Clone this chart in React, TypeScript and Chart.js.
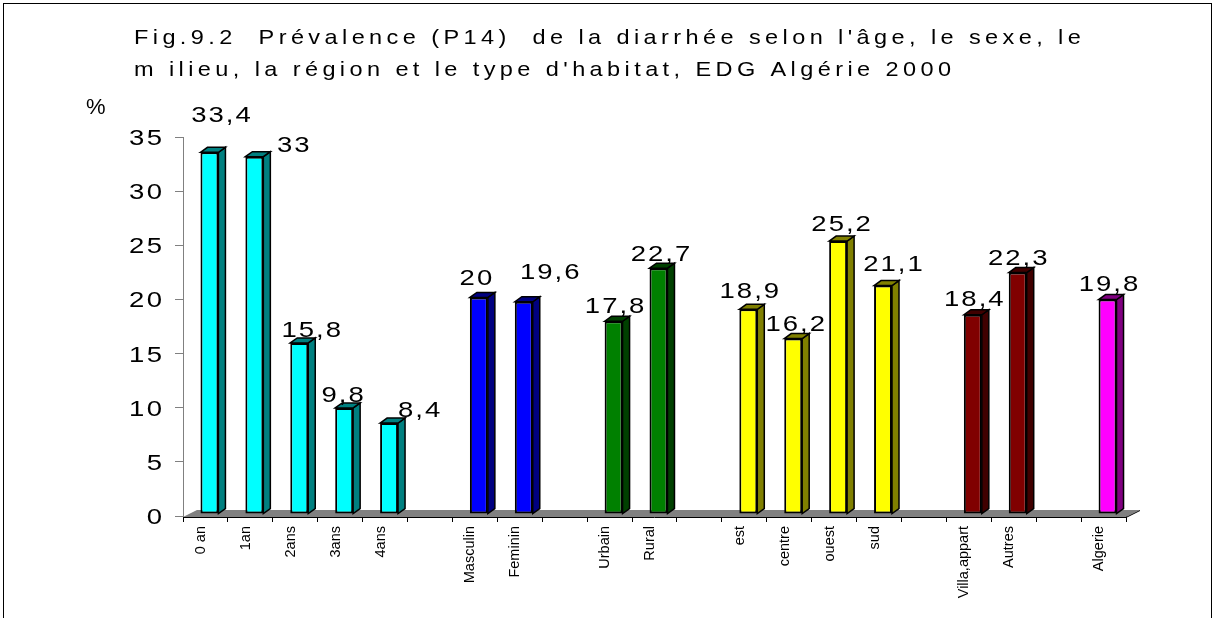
import React, { useEffect, useRef } from 'react';
import { Chart, registerables } from 'chart.js';

Chart.register(...registerables);

// ---------- data ----------
const CATEGORIES = [
  '0 an', '1an', '2ans', '3ans', '4ans', '',
  'Masculin', 'Feminin', '',
  'Urbain', 'Rural', '',
  'est', 'centre', 'ouest', 'sud', '',
  'Villa,appart', 'Autres', '',
  'Algerie',
];
const VALUES: (number | null)[] = [
  33.4, 33, 15.8, 9.8, 8.4, null,
  20, 19.6, null,
  17.8, 22.7, null,
  18.9, 16.2, 25.2, 21.1, null,
  18.4, 22.3, null,
  19.8,
];
const Y_TICKS = [0, 5, 10, 15, 20, 25, 30, 35];
const TITLE_LINES = [
  "Fig.9.2  Prévalence (P14)  de la diarrhée selon l'âge, le sexe, le",
  "m ilieu, la région et le type d'habitat, EDG Algérie 2000",
];
const Y_UNIT = '%';

// ---------- styles ----------
const FONT = "'Liberation Sans', Arial, sans-serif";
const CYAN = ['#00FFFF', '#008080'];
const BLUE = ['#0000FF', '#000080'];
const GREEN = ['#008000', '#004000'];
const YELLOW = ['#FFFF00', '#808000'];
const MAROON = ['#800000', '#400000'];
const MAGENTA = ['#FF00FF', '#800080'];
const GROUP_COLORS = [
  CYAN, CYAN, CYAN, CYAN, CYAN, CYAN,
  BLUE, BLUE, BLUE,
  GREEN, GREEN, GREEN,
  YELLOW, YELLOW, YELLOW, YELLOW, YELLOW,
  MAROON, MAROON, MAROON,
  MAGENTA,
];
// value label offsets relative to the bar's front top centre
const LABEL_OFFSETS: [number, number][] = [
  [11.5, -38], [39, -13], [12, -14], [-1.5, -14], [30, -14], [0, 0],
  [-3, -20], [26, -31], [0, 0],
  [1, -16], [2, -15], [0, 0],
  [1, -19], [2, -16], [3, -18], [10, -23], [0, 0],
  [1, -17], [0, -16], [0, 0],
  [1, -17],
];
const SHIFT_X = 4;
const SHIFT_Y = -2;
const DEPTH_X = 7;
const DEPTH_Y = 5;

function drawSpaced(
  ctx: CanvasRenderingContext2D,
  text: string,
  x: number,
  y: number,
  size: number,
  sx: number,
  ls: number,
  align: 'left' | 'center' | 'right',
) {
  ctx.save();
  ctx.font = `${size}px ${FONT}`;
  ctx.fillStyle = '#000';
  ctx.textAlign = 'left';
  ctx.textBaseline = 'alphabetic';
  const chars = [...text];
  const widths = chars.map((c) => ctx.measureText(c).width * sx);
  const total = widths.reduce((a, b) => a + b, 0) + ls * (chars.length - 1);
  let cx = align === 'center' ? x - total / 2 : align === 'right' ? x - total : x;
  chars.forEach((c, i) => {
    ctx.save();
    ctx.translate(cx, y);
    ctx.scale(sx, 1);
    ctx.fillText(c, 0, 0);
    ctx.restore();
    cx += widths[i] + ls;
  });
  ctx.restore();
}

const decoPlugin = {
  id: 'deco',
  beforeDraw(chart: any) {
    const { ctx, width, height } = chart;
    ctx.save();
    ctx.fillStyle = '#fff';
    ctx.fillRect(0, 0, width, height);
    ctx.strokeStyle = '#000';
    ctx.lineWidth = 1;
    ctx.strokeRect(3.5, 3.5, width - 7, height + 50);
    ctx.restore();
  },
  beforeDatasetsDraw(chart: any) {
    const { ctx, chartArea } = chart;
    const b = chartArea.bottom + 1;
    ctx.save();
    ctx.fillStyle = '#808080';
    ctx.beginPath();
    ctx.moveTo(chartArea.left, b);
    ctx.lineTo(chartArea.right, b);
    ctx.lineTo(chartArea.right + 14, b - 7);
    ctx.lineTo(chartArea.left + 14, b - 7);
    ctx.closePath();
    ctx.fill();
    ctx.strokeStyle = '#000';
    ctx.lineWidth = 1;
    ctx.beginPath();
    ctx.moveTo(chartArea.left, b + 0.5);
    ctx.lineTo(chartArea.right, b + 0.5);
    ctx.lineTo(chartArea.right + 14, b - 6.5);
    ctx.stroke();
    ctx.restore();
    ctx.save();
    ctx.translate(SHIFT_X, SHIFT_Y);
  },
  afterDatasetsDraw(chart: any) {
    const { ctx } = chart;
    const meta = chart.getDatasetMeta(0);
    meta.data.forEach((el: any, i: number) => {
      if (VALUES[i] == null) return;
      const p = el.getProps(['x', 'y', 'width', 'base'], true);
      const l = p.x - p.width / 2;
      const r = p.x + p.width / 2;
      const side = GROUP_COLORS[i][1];
      ctx.lineWidth = 1.5;
      ctx.strokeStyle = '#000';
      ctx.fillStyle = side;
      ctx.beginPath();
      ctx.moveTo(r, p.y);
      ctx.lineTo(r + DEPTH_X, p.y - DEPTH_Y);
      ctx.lineTo(r + DEPTH_X, p.base - DEPTH_Y);
      ctx.lineTo(r, p.base);
      ctx.closePath();
      ctx.fill();
      ctx.stroke();
      ctx.beginPath();
      ctx.moveTo(l, p.y);
      ctx.lineTo(l + DEPTH_X, p.y - DEPTH_Y);
      ctx.lineTo(r + DEPTH_X, p.y - DEPTH_Y);
      ctx.lineTo(r, p.y);
      ctx.closePath();
      ctx.fill();
      ctx.stroke();
    });
    ctx.restore();
  },
  afterDraw(chart: any) {
    const { ctx } = chart;
    drawSpaced(ctx, TITLE_LINES[0], 134, 44, 21, 1.12, 4.4, 'left');
    drawSpaced(ctx, TITLE_LINES[1], 134, 76, 21, 1.12, 4.4, 'left');
    drawSpaced(ctx, Y_UNIT, 86, 114, 22, 1, 0, 'left');
    const ys = chart.scales.y;
    Y_TICKS.forEach((v) => {
      drawSpaced(ctx, String(v), 162, ys.getPixelForValue(v) + 8, 22, 1.25, 2.5, 'right');
    });
    const meta = chart.getDatasetMeta(0);
    meta.data.forEach((el: any, i: number) => {
      const v = VALUES[i];
      if (v == null) return;
      const p = el.getProps(['x', 'y'], true);
      const [dx, dy] = LABEL_OFFSETS[i];
      const cx = p.x + SHIFT_X + dx;
      const cy = p.y + SHIFT_Y + dy;
      drawSpaced(ctx, String(v).replace('.', ','), cx, cy + 8, 22, 1.25, 2, 'center');
    });
  },
};

export default function App() {
  const ref = useRef<HTMLCanvasElement | null>(null);
  useEffect(() => {
    document.body.style.margin = '0';
    const canvas = ref.current;
    if (!canvas) return;
    const chart = new Chart(canvas, {
      type: 'bar',
      data: {
        labels: CATEGORIES,
        datasets: [
          {
            data: VALUES,
            backgroundColor: GROUP_COLORS.map((c) => c[0]),
            borderColor: '#000',
            borderWidth: 2,
            borderSkipped: false,
            categoryPercentage: 1,
            barPercentage: 0.4,
          } as any,
        ],
      },
      options: {
        responsive: false,
        devicePixelRatio: 1,
        animation: false,
        layout: { padding: { top: 137, right: 89, bottom: 0, left: 0 } },
        plugins: {
          legend: { display: false },
          tooltip: { enabled: false },
          title: { display: false },
        },
        scales: {
          x: {
            type: 'category',
            offset: true,
            grid: {
              display: true,
              offset: true,
              drawOnChartArea: false,
              drawTicks: true,
              tickLength: 6,
              color: '#000',
              lineWidth: 1,
            },
            border: { display: false },
            ticks: {
              autoSkip: false,
              maxRotation: 90,
              minRotation: 90,
              labelOffset: -4.5,
              padding: 4,
              color: '#000',
              font: { family: FONT, size: 14.5 },
            },
            afterFit: (s: any) => {
              s.height = 102;
            },
          },
          y: {
            min: 0,
            max: 35,
            ticks: { stepSize: 5, color: 'rgba(0,0,0,0)', font: { family: FONT, size: 22 } },
            grid: {
              display: true,
              drawOnChartArea: false,
              drawTicks: true,
              tickLength: 8,
              color: '#808080',
            },
            border: { display: true, color: '#808080' },
            afterFit: (s: any) => {
              s.width = 183;
            },
          },
        },
      } as any,
      plugins: [decoPlugin],
    });
    return () => chart.destroy();
  }, []);
  return <canvas ref={ref} width={1215} height={618} style={{ display: 'block' }} />;
}
